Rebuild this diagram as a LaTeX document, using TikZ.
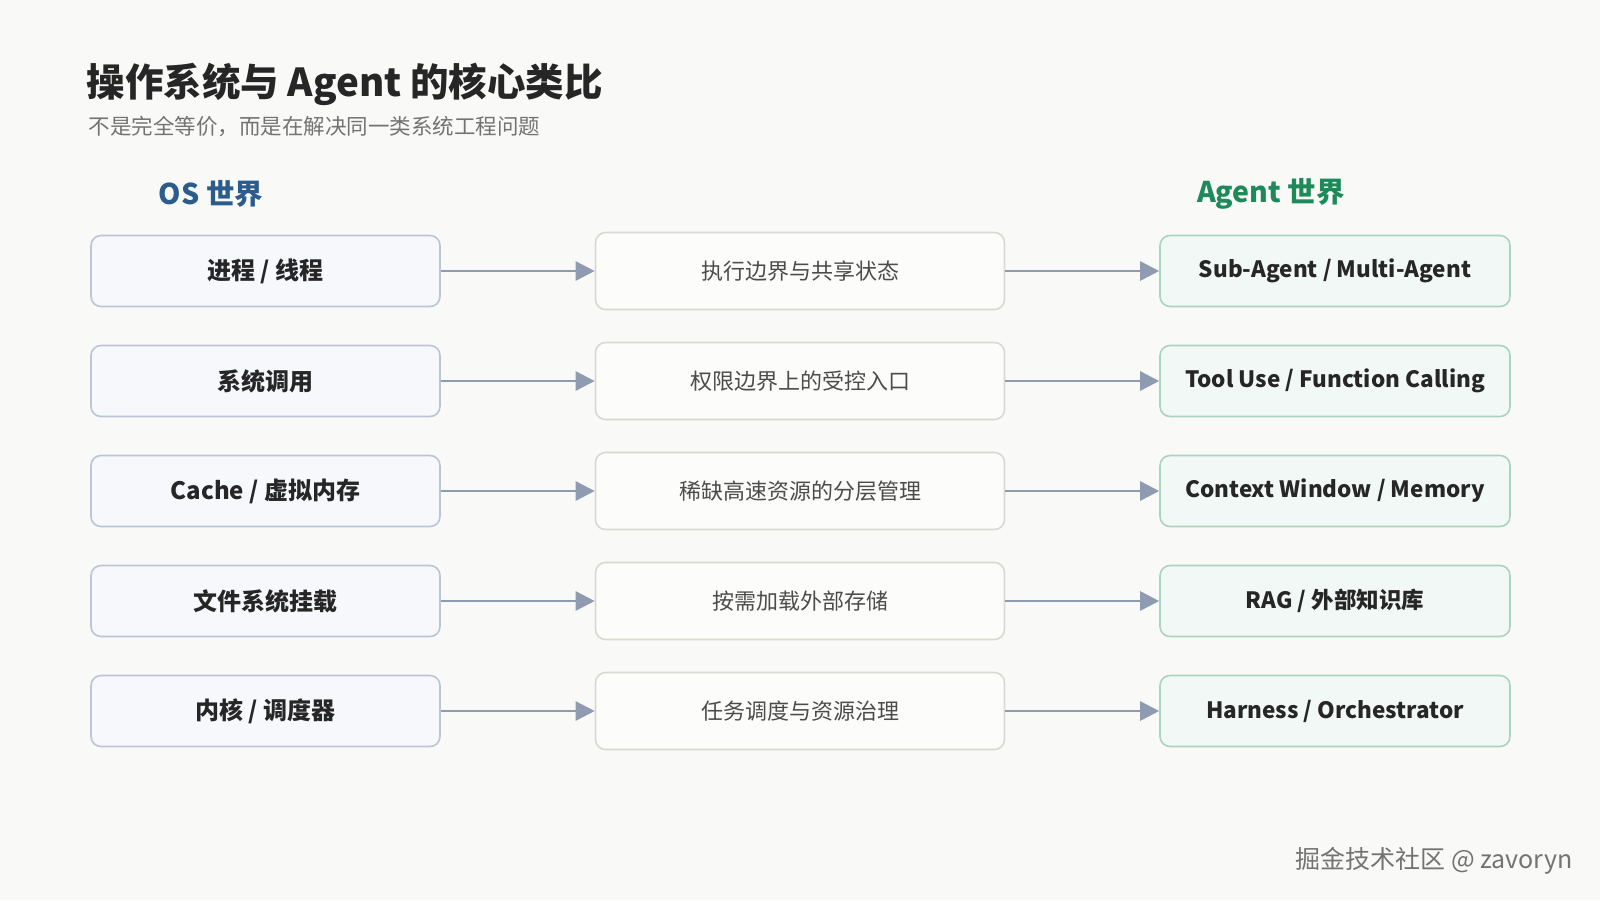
\documentclass[tikz,border=0pt]{standalone}
\usepackage{fontspec}
\setmainfont{Noto Sans CJK SC}
\usetikzlibrary{arrows.meta}
\definecolor{bgc}{HTML}{F9F9F8}
\definecolor{osblue}{HTML}{2B5C8C}
\definecolor{aggreen}{HTML}{1E8A5A}
\definecolor{arrowc}{HTML}{8E9BB0}
\definecolor{osline}{HTML}{BCC4D8}
\definecolor{osfill}{HTML}{F6F8FC}
\definecolor{midline}{HTML}{D9D9D4}
\definecolor{midfill}{HTML}{FCFCFA}
\tikzset{
  osbox/.style={draw=osline, fill=osfill, line width=1.6pt, rounded corners=10pt,
    minimum width=349pt, minimum height=71pt, font=\fontsize{24}{28}\selectfont\bfseries, text=black!85},
  midbox/.style={draw=midline, fill=midfill, line width=1.6pt, rounded corners=10pt,
    minimum width=409pt, minimum height=77pt, font=\fontsize{22}{26}\selectfont, text=black!70},
  agbox/.style={draw=aggreen!38, fill=aggreen!6, line width=1.6pt, rounded corners=10pt,
    minimum width=350pt, minimum height=71pt, font=\fontsize{22.5}{26}\selectfont\bfseries, text=black!85},
  link/.style={draw=arrowc, line width=2.6pt, -{Triangle[length=19pt,width=19pt]}}
}
\begin{document}
\begin{tikzpicture}[x=1pt,y=-1pt]
\fill[bgc] (0,0) rectangle (1600,900);
\useasboundingbox (0,0) rectangle (1600,900);
% titles
\node[anchor=west, font=\fontsize{38.5}{42}\selectfont\bfseries, text=black!85] (title) at (83,84) {操作系统与 Agent 的核心类比};
\node[anchor=west, font=\fontsize{21.5}{25}\selectfont, text=black!55] (sub) at (85,126) {不是完全等价，而是在解决同一类系统工程问题};
\node[font=\fontsize{28.5}{32}\selectfont\bfseries, text=osblue] (oshead) at (211,194) {OS 世界};
\node[font=\fontsize{28.5}{32}\selectfont\bfseries, text=aggreen] (aghead) at (1271,194) {Agent 世界};
% rows
\foreach \i/\os/\mid/\ag/\y in {
  1/{进程 / 线程}/执行边界与共享状态/{Sub-Agent / Multi-Agent}/271,
  2/系统调用/权限边界上的受控入口/{Tool Use / Function Calling}/381,
  3/{Cache / 虚拟内存}/稀缺高速资源的分层管理/{Context Window / Memory}/491,
  4/文件系统挂载/按需加载外部存储/{RAG / 外部知识库}/601,
  5/{内核 / 调度器}/任务调度与资源治理/{Harness / Orchestrator}/711}{
  \node[osbox] (os\i) at (265.5,\y) {\os};
  \node[midbox] (mid\i) at (800,\y) {\mid};
  \node[agbox] (ag\i) at (1335,\y) {\ag};
  \draw[link] (os\i) -- (mid\i);
  \draw[link] (mid\i) -- (ag\i);
}
% watermark
\node[anchor=east, font=\fontsize{25}{29}\selectfont, text=black!55] (mark) at (1576,861) {掘金技术社区 @ zavoryn};
\end{tikzpicture}
\end{document}
